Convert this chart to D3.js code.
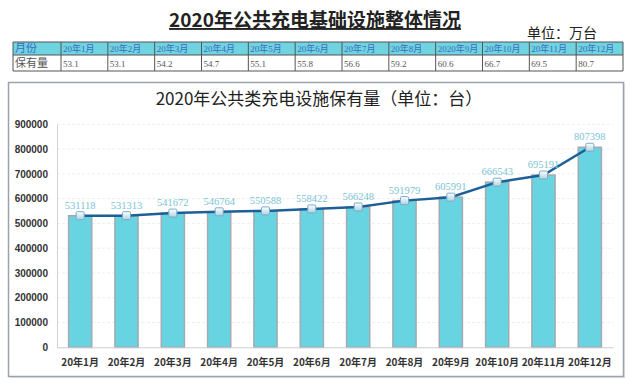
<!DOCTYPE html>
<html>
<head>
<meta charset="utf-8">
<script src="https://cdn.jsdelivr.net/npm/d3@7"></script>
<style>
	body { margin: 0; background: #fff; }
	svg { display: block; }
</style>
</head>
<body>
<div id="chart"></div>
<script>
// table on top (unit: 10k)
var tableMonths = ["20年1月", "20年2月", "20年3月", "20年4月", "20年5月", "20年6月", "20年7月", "20年8月", "2020年9月", "20年10月", "20年11月", "20年12月"];
var tableValues = ["53.1", "53.1", "54.2", "54.7", "55.1", "55.8", "56.6", "59.2", "60.6", "66.7", "69.5", "80.7"];

// chart (unit: pcs)
var months = ["20年1月", "20年2月", "20年3月", "20年4月", "20年5月", "20年6月", "20年7月", "20年8月", "20年9月", "20年10月", "20年11月", "20年12月"];
var counts = [531118, 531313, 541672, 546764, 550588, 558422, 566248, 591979, 605991, 666543, 695191, 807398];
var yTicks = [0, 100000, 200000, 300000, 400000, 500000, 600000, 700000, 800000, 900000];

var W = 640, H = 387;
var cjk = "'Noto Sans CJK SC', 'Noto Sans', sans-serif";
var serif = "'Liberation Serif', 'Noto Sans CJK SC', serif";

var svg = d3.select("#chart").append("svg")
	.attr("width", W)
	.attr("height", H);

var defs = svg.append("defs");
var mg = defs.append("linearGradient").attr("id", "mark").attr("x1", 0).attr("y1", 0).attr("x2", 0).attr("y2", 1);
mg.append("stop").attr("offset", "0%").attr("stop-color", "#ffffff");
mg.append("stop").attr("offset", "100%").attr("stop-color", "#a9d3e4");

// main title
svg.append("text")
	.attr("x", 315).attr("y", 27)
	.attr("text-anchor", "middle")
	.style("font-family", cjk)
	.style("font-weight", "bold")
	.style("font-size", "19px")
	.style("text-decoration", "underline")
	.attr("fill", "#222")
	.text("2020年公共充电基础设施整体情况");

svg.append("text")
	.attr("x", 597).attr("y", 38)
	.attr("text-anchor", "end")
	.style("font-family", cjk)
	.style("font-size", "14px")
	.attr("fill", "#222")
	.text("单位：万台");

// table
var tx0 = 13, tx1 = 61, colW = (623 - 61) / 12;
var ty0 = 42, ty1 = 55, ty2 = 71;
var cols = [tx0].concat(d3.range(13).map(function (i) { return tx1 + i * colW; }));

svg.append("rect")
	.attr("x", tx0).attr("y", ty0)
	.attr("width", 623 - tx0).attr("height", ty1 - ty0)
	.attr("fill", "#6fd3e0");

var tbl = svg.append("g").attr("stroke", "#555").attr("stroke-width", 1);
[ty0, ty1, ty2].forEach(function (y) {
	tbl.append("line").attr("x1", tx0).attr("x2", 623).attr("y1", y).attr("y2", y);
});
cols.forEach(function (x) {
	tbl.append("line").attr("x1", x).attr("x2", x).attr("y1", ty0).attr("y2", ty2);
});

var headRow = ["月份"].concat(tableMonths);
var bodyRow = ["保有量"].concat(tableValues);
headRow.forEach(function (t, i) {
	svg.append("text")
		.attr("x", cols[i] + 2).attr("y", ty1 - 3)
		.style("font-family", i === 0 ? cjk : serif)
		.style("font-size", i === 0 ? "11px" : "9px")
		.attr("fill", "#3d6cc0")
		.text(t);
});
bodyRow.forEach(function (t, i) {
	svg.append("text")
		.attr("x", cols[i] + 2).attr("y", ty2 - 4)
		.style("font-family", i === 0 ? cjk : serif)
		.style("font-size", i === 0 ? "11px" : "9px")
		.attr("fill", "#555")
		.text(t);
});

// chart box
svg.append("rect")
	.attr("x", 10).attr("y", 84)
	.attr("width", 615).attr("height", 294)
	.attr("fill", "#e3e6ea");
svg.append("rect")
	.attr("x", 8.5).attr("y", 82.5)
	.attr("width", 615).attr("height", 294)
	.attr("fill", "#fff")
	.attr("stroke", "#9aa3ad")
	.attr("stroke-width", 1.5);

svg.append("text")
	.attr("x", 319).attr("y", 105)
	.attr("text-anchor", "middle")
	.style("font-family", cjk)
	.style("font-size", "17px")
	.attr("fill", "#222")
	.text("2020年公共类充电设施保有量（单位：台）");

// scales
var x = d3.scaleBand().domain(months).range([57, 613]).paddingInner(0.5).paddingOuter(0.25);
var y = d3.scaleLinear().domain([0, 900000]).range([347.3, 124.3]);

// grid
svg.append("g")
	.selectAll("line")
	.data(yTicks.slice(1))
	.enter().append("line")
	.attr("x1", 57).attr("x2", 613)
	.attr("y1", function (d) { return y(d); })
	.attr("y2", function (d) { return y(d); })
	.attr("stroke", "#eeeeee")
	.attr("stroke-dasharray", "3,2");

// y axis
var axisLeft = d3.axisLeft(y).tickValues(yTicks).tickSize(0).tickPadding(9).tickFormat(d3.format("d"));
var gy = svg.append("g")
	.attr("transform", "translate(57,0)")
	.call(axisLeft);
gy.select(".domain").attr("stroke", "#d0d4d8");
gy.selectAll("text")
	.style("font-family", "'Liberation Sans', Arial, sans-serif")
	.style("font-weight", "bold")
	.style("font-size", "10px")
	.attr("fill", "#333");

// bars
svg.append("g")
	.selectAll("rect")
	.data(counts)
	.enter().append("rect")
	.attr("x", function (d, i) { return x(months[i]); })
	.attr("y", function (d) { return y(d); })
	.attr("width", x.bandwidth())
	.attr("height", function (d) { return y(0) - y(d); })
	.attr("fill", "#68d4e2")
	.attr("stroke", "#a3aab0")
	.attr("stroke-width", 1.5);

// x axis
var axisBottom = d3.axisBottom(x).tickSize(0).tickPadding(12);
var gx = svg.append("g")
	.attr("transform", "translate(0," + y(0) + ")")
	.call(axisBottom);
gx.select(".domain").attr("stroke", "#c8ccd0");
gx.selectAll("text")
	.style("font-family", cjk)
	.style("font-weight", "bold")
	.style("font-size", "10px")
	.attr("fill", "#333");

// line
var cx = function (d, i) { return x(months[i]) + x.bandwidth() / 2; };
var line = d3.line()
	.x(cx)
	.y(function (d) { return y(d); });

svg.append("path")
	.attr("d", line(counts))
	.attr("fill", "none")
	.attr("stroke", "#1d5f97")
	.attr("stroke-width", 2.5);

svg.append("g")
	.selectAll("rect")
	.data(counts)
	.enter().append("rect")
	.attr("x", function (d, i) { return cx(d, i) - 4; })
	.attr("y", function (d) { return y(d) - 4; })
	.attr("width", 8).attr("height", 8)
	.attr("rx", 1)
	.attr("fill", "url(#mark)")
	.attr("stroke", "#7fa9c4")
	.attr("stroke-width", 1);

// labels
svg.append("g")
	.selectAll("text")
	.data(counts)
	.enter().append("text")
	.attr("x", cx)
	.attr("y", function (d) { return y(d) - 7; })
	.attr("text-anchor", "middle")
	.style("font-family", serif)
	.style("font-size", "10.5px")
	.attr("fill", "#7bc3d6")
	.text(function (d) { return d; });
</script>
</body>
</html>
